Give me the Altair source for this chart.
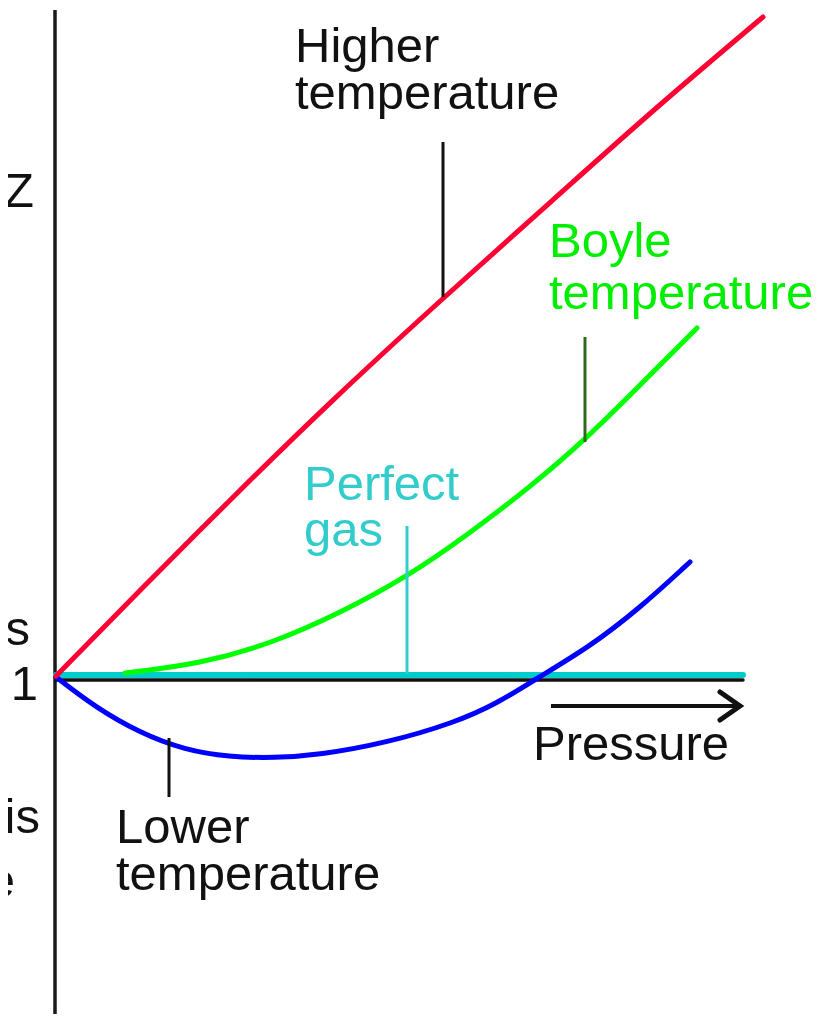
import altair as alt
import pandas as pd

# All positions (x to the right, y downwards)
red_x = [56, 140, 240, 330, 443, 553, 653, 763]
red_y = [676, 590, 490, 402, 298, 200, 110, 17]

green_x = [125, 200, 273, 340, 407, 470, 530, 585, 640, 697]
green_y = [673, 664, 643, 613, 577, 533, 487, 440, 385, 328]

blue_x = [56, 95, 140, 185, 229, 274, 319, 386, 454, 498, 534, 588, 640, 690]
blue_y = [677, 707, 733, 750, 757, 758, 755, 743, 723, 703, 680, 648, 608, 562]

# horizontal Z = 1 line (perfect gas) and its dark underline
ideal_x = [56, 743]
ideal_y = [675, 675]
under_y = [680, 680]

# vertical axis
axis_x = [55]
axis_y1 = [10]
axis_y2 = [1022]

# leader lines: x, top, bottom, colour
lead_x = [443, 585, 407, 169]
lead_top = [142, 337, 526, 738]
lead_bot = [297, 442, 674, 797]
lead_col = ["#111111", "#2f6a1c", "#33cccc", "#111111"]

# pressure arrow
arrow_x1 = [551]
arrow_x2 = [736]
arrow_y = [706]
head_x = [720, 740, 720]
head_y = [692, 706, 720]

# text labels (left x, baseline y)
lab_text = ["Higher", "temperature", "Boyle", "temperature", "Perfect", "gas",
            "Pressure", "Lower", "temperature"]
lab_x = [295, 295, 549, 549, 304, 304, 533, 116, 116]
lab_y = [62, 109, 257, 309, 500, 546, 760, 843, 890]
lab_col = ["#111111", "#111111", "#00ee00", "#00ee00", "#33cccc", "#33cccc",
           "#111111", "#111111", "#111111"]

# right-aligned texts on the left edge (partly cut off in the reference)
left_text = ["Z", "1", "ts", "is", "e"]
left_x = [34, 38, 30, 40, 15]
left_y = [207, 700, 645, 833, 897]

W, H = 815, 1006
xs = alt.Scale(domain=[8, 8 + W], nice=False, zero=False)
ys = alt.Scale(domain=[8, 8 + H], nice=False, zero=False, reverse=True)
X = lambda f: alt.X(f, type="quantitative", scale=xs, axis=None)
Y = lambda f: alt.Y(f, type="quantitative", scale=ys, axis=None)

def curve(xv, yv, color, width, interp="basis"):
    df = pd.DataFrame({"x": xv, "y": yv, "o": list(range(len(xv)))})
    return alt.Chart(df).mark_line(color=color, strokeWidth=width, interpolate=interp,
                                   strokeCap="round").encode(
        x=X("x"), y=Y("y"), order="o:Q")

axis = alt.Chart(pd.DataFrame({"x": axis_x, "y": axis_y1, "y2": axis_y2})).mark_rule(
    color="#1a1a1a", strokeWidth=3.5).encode(x=X("x"), y=Y("y"), y2="y2")

under = curve(ideal_x, under_y, "#111111", 3.5, "linear")
ideal = curve(ideal_x, ideal_y, "#00cccc", 6, "linear")
red = curve(red_x, red_y, "#ff0033", 5)
green = curve(green_x, green_y, "#00ff00", 5)
blue = curve(blue_x, blue_y, "#0000ff", 5)

leads = alt.Chart(pd.DataFrame({"x": lead_x, "y": lead_top, "y2": lead_bot, "c": lead_col})).mark_rule(
    strokeWidth=3).encode(x=X("x"), y=Y("y"), y2="y2", color=alt.Color("c:N", scale=None))

shaft = alt.Chart(pd.DataFrame({"x": arrow_x1, "x2": arrow_x2, "y": arrow_y})).mark_rule(
    color="#111111", strokeWidth=4).encode(x=X("x"), x2="x2", y=Y("y"))
head = alt.Chart(pd.DataFrame({"x": head_x, "y": head_y, "o": [0, 1, 2]})).mark_line(
    color="#111111", strokeWidth=5, strokeCap="round", strokeJoin="miter").encode(
    x=X("x"), y=Y("y"), order="o:Q")

labels = alt.Chart(pd.DataFrame({"t": lab_text, "x": lab_x, "y": lab_y, "c": lab_col})).mark_text(
    align="left", baseline="alphabetic", font="Liberation Sans", fontSize=49).encode(
    x=X("x"), y=Y("y"), text="t:N", color=alt.Color("c:N", scale=None))

left_labels = alt.Chart(pd.DataFrame({"t": left_text, "x": left_x, "y": left_y})).mark_text(
    align="right", baseline="alphabetic", font="Liberation Sans", fontSize=49, color="#111111").encode(
    x=X("x"), y=Y("y"), text="t:N")

chart = alt.layer(axis, under, ideal, green, blue, red, leads, shaft, head, labels, left_labels).properties(
    width=W, height=H, autosize=alt.AutoSizeParams(type="none"), padding=0
).configure_view(stroke=None)

chart.save("out.html", embed_options={"renderer": "svg", "actions": False})
